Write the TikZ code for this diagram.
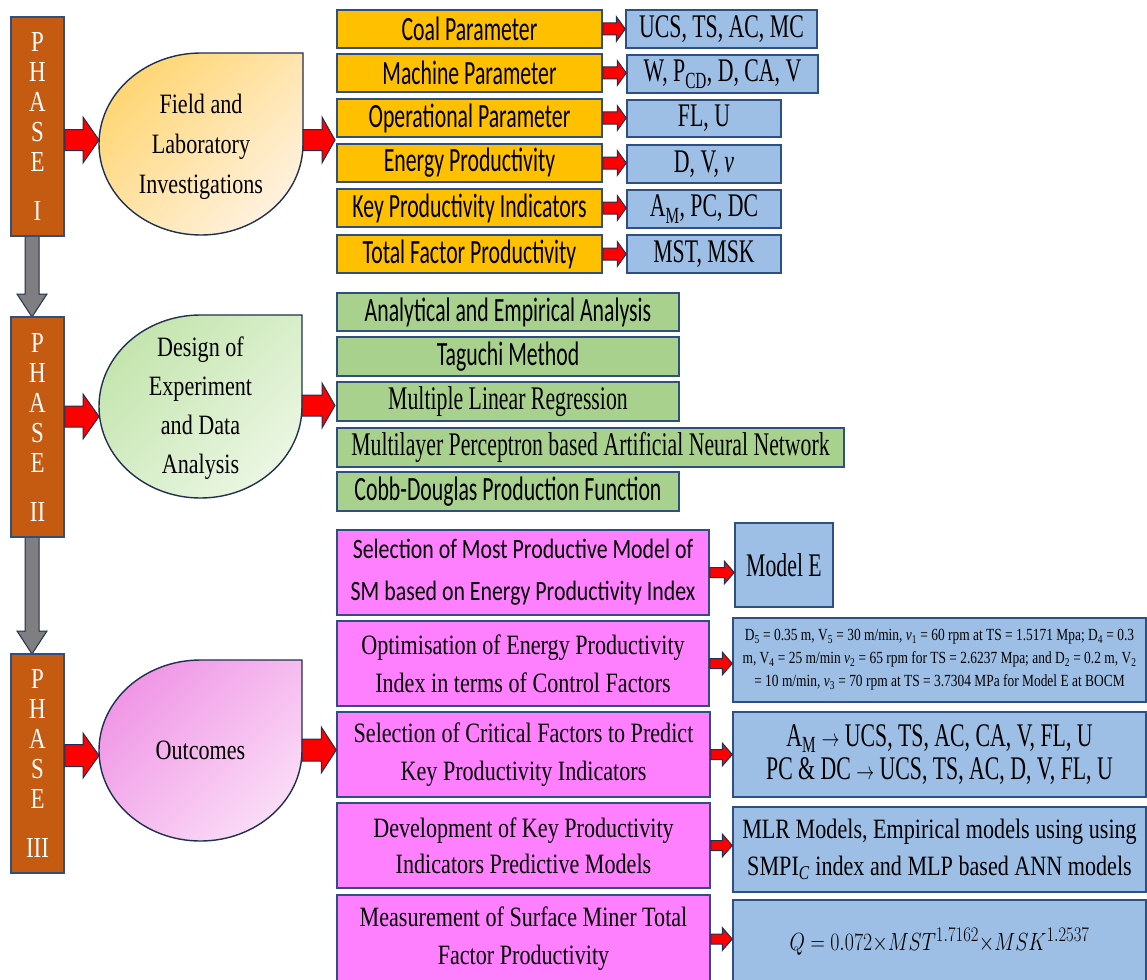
\documentclass[tikz,border=0pt]{standalone}
\usepackage{fontspec}
\usepackage{graphicx}
\setmainfont{Liberation Serif}
\newfontfamily\calA[FakeStretch=0.64]{Carlito}
\newfontfamily\calB[FakeStretch=0.78]{Carlito}
\newfontfamily\tmA[FakeStretch=0.66]{Liberation Serif}
\newfontfamily\tmB[FakeStretch=0.79]{Liberation Serif}
\usetikzlibrary{calc}
\definecolor{bord}{HTML}{2F4F80}
\definecolor{navy}{HTML}{1F3050}
\definecolor{orng}{HTML}{FFC000}
\definecolor{lblue}{HTML}{9DBFE5}
\definecolor{lgreen}{HTML}{A9D18E}
\definecolor{pink}{HTML}{FF80FF}
\definecolor{brown}{HTML}{C55A11}
\definecolor{gray5}{HTML}{7F7F7F}
\definecolor{yelD}{HTML}{FFD674}
\definecolor{yelL}{HTML}{FFF1DE}
\definecolor{grnD}{HTML}{C4E5AE}
\definecolor{grnL}{HTML}{EAF6E2}
\definecolor{pnkD}{HTML}{F096E6}
\definecolor{pnkL}{HTML}{FADCF6}
\newcommand\myarr{\ \scalebox{0.72}[1]{$\rightarrow$}\ }
\tikzset{
  box/.style={draw=bord, line width=1.5pt, inner sep=0pt, align=center, text=black},
  orangebox/.style={box, fill=orng, font=\calA\fontsize{34}{34}\selectfont},
  bluebox/.style={box, fill=lblue, font=\tmA\fontsize{33}{33}\selectfont},
  greencal/.style={box, fill=lgreen, font=\calA\fontsize{34}{34}\selectfont},
  greentm/.style={box, fill=lgreen, font=\tmA\fontsize{33}{33}\selectfont},
  pinkcal/.style={box, fill=pink, font=\calB\fontsize{28}{42}\selectfont},
  pinktm/.style={box, fill=pink, font=\tmB\fontsize{28}{38}\selectfont},
  phasebox/.style={draw=bord, line width=1.5pt, fill=brown, inner sep=0pt, align=center, text=white, font=\tmB\fontsize{29}{30}\selectfont},
  teartext/.style={inner sep=0pt, align=center, font=\tmB\fontsize{28}{40}\selectfont},
  tearline/.style={draw=navy, line width=1.4pt},
  redarrow/.style={fill=red, draw=navy, line width=1pt},
  grayarrow/.style={fill=gray5, draw=navy, line width=1pt}
}
% box by corners (y measured downward)
\newcommand\bx[7]{\node[#2, minimum width={#5-#3}, minimum height={#6-#4}] (#1) at ({(#3+#5)/2},{-(#4+#6)/2}) {#7};}
% horizontal block arrow: style, start, end, shaft half, head half, head length
\newcommand\harrow[6]{\path[#1] let \p1=#2, \p2=#3 in (\x1,\y1+#4pt) -- (\x2-#6pt,\y1+#4pt) -- (\x2-#6pt,\y1+#5pt) -- (\x2,\y1) -- (\x2-#6pt,\y1-#5pt) -- (\x2-#6pt,\y1-#4pt) -- (\x1,\y1-#4pt) -- cycle;}
% vertical block arrow (downwards)
\newcommand\varrow[6]{\path[#1] let \p1=#2, \p2=#3 in (\x1-#4pt,\y1) -- (\x1-#4pt,\y2+#6pt) -- (\x1-#5pt,\y2+#6pt) -- (\x1,\y2) -- (\x1+#5pt,\y2+#6pt) -- (\x1+#4pt,\y2+#6pt) -- (\x1+#4pt,\y1) -- cycle;}
% teardrop: cx, cy(down), rx, ry, dark, light
\newcommand\teardrop[6]{\path[tearline, top color=#5, bottom color=#6, shading angle=45] (#1,-#2+#4) -- (#1+#3,-#2+#4) -- (#1+#3,-#2) arc[start angle=0,end angle=-90,x radius=#3,y radius=#4] arc[start angle=-90,end angle=-180,x radius=#3,y radius=#4] arc[start angle=180,end angle=90,x radius=#3,y radius=#4] -- cycle;}
\begin{document}
\begin{tikzpicture}[x=1pt,y=1pt]
\useasboundingbox (0,0) rectangle (1147,-979);

% ---------- phase boxes and gray arrows ----------
\coordinate (ph1s) at (32,-236);
\coordinate (ph2n) at (32,-317);
\coordinate (ph2s) at (32,-537);
\coordinate (ph3n) at (32,-654);
\varrow{grayarrow}{(ph1s)}{(ph2n)}{7}{15}{23}
\varrow{grayarrow}{(ph2s)}{(ph3n)}{7}{15}{23}
\bx{ph1}{phasebox}{11}{17}{64}{236}{P\\H\\A\\S\\E\\[19pt]I}
\bx{ph2}{phasebox}{11}{317}{64}{537}{P\\H\\A\\S\\E\\[19pt]II}
\bx{ph3}{phasebox}{11}{654}{64}{873}{P\\H\\A\\S\\E\\[19pt]III}

% ---------- teardrops ----------
\teardrop{201}{144}{102}{91}{yelD}{yelL}
\node[teartext] (t1) at (201,-147) {Field and\\Laboratory\\Investigations};
\coordinate (t1w) at (99,-140);
\coordinate (t1e) at (303,-140);
\teardrop{200.5}{406.5}{101.5}{91.5}{grnD}{grnL}
\node[teartext, font=\tmB\fontsize{28}{39}\selectfont] (t2) at (200.5,-408) {Design of\\Experiment\\and Data\\Analysis};
\coordinate (t2w) at (99,-416.5);
\coordinate (t2e) at (302,-405.5);
\teardrop{200.5}{750.5}{101.5}{90.5}{pnkD}{pnkL}
\node[teartext] (t3) at (200.5,-750) {Outcomes};
\coordinate (t3w) at (99,-755.5);
\coordinate (t3e) at (302,-750);

% ---------- phase I boxes ----------
\bx{o1}{orangebox}{337}{10}{602}{48}{Coal Parameter}
\bx{o2}{orangebox}{337}{54}{602}{92}{Machine Parameter}
\bx{o3}{orangebox}{337}{99}{602}{137}{Operational Parameter}
\bx{o4}{orangebox}{337}{144}{602}{182}{Energy Productivity}
\bx{o5}{orangebox}{337}{189}{602}{227}{Key Productivity Indicators}
\bx{o6}{orangebox}{337}{235}{602}{273}{Total Factor Productivity}
\bx{b1}{bluebox}{626}{10}{817}{48}{UCS, TS, AC, MC}
\bx{b2}{bluebox}{627}{55}{818}{93}{W, P\textsubscript{CD}, D, CA, V}
\bx{b3}{bluebox}{627}{100}{781}{137}{FL, U}
\bx{b4}{bluebox}{627}{145}{781}{183}{D, V, \textit{ν}}
\bx{b5}{bluebox}{627}{190}{781}{228}{A\textsubscript{M}, PC, DC}
\bx{b6}{bluebox}{627}{235}{781}{273}{MST, MSK}
\foreach \i in {1,...,6}{\harrow{redarrow}{(o\i.east)}{(b\i.west)}{6}{12.5}{9}}

% ---------- phase II boxes ----------
\bx{g1}{greencal}{337}{293}{679}{331}{Analytical and Empirical Analysis}
\bx{g2}{greencal}{337}{337}{679}{376}{Taguchi Method}
\bx{g3}{greentm}{337}{382}{679}{421}{Multiple Linear Regression}
\bx{g4}{greentm}{337}{428}{844}{467}{Multilayer Perceptron based Artificial Neural Network}
\bx{g5}{greencal}{337}{472}{679}{511}{Cobb-Douglas Production Function}

% ---------- phase III boxes ----------
\bx{p1}{pinkcal}{337}{530}{709}{615}{Selection of Most Productive Model of\\SM based on Energy Productivity Index}
\bx{p2}{pinktm}{337}{621}{709}{706}{Optimisation of Energy Productivity\\Index in terms of Control Factors}
\bx{p3}{pinktm}{337}{712}{710}{797}{Selection of Critical Factors to Predict\\Key Productivity Indicators}
\bx{p4}{pinktm, font=\tmB\fontsize{28}{36}\selectfont}{337}{803}{710}{888}{Development of Key Productivity\\Indicators Predictive Models}
\bx{p5}{pinktm}{337}{895}{710}{983}{Measurement of Surface Miner Total\\Factor Productivity}
\bx{q1}{bluebox}{735}{523}{833}{607}{Model E}
\bx{q2}{bluebox, font=\tmB\fontsize{17}{23}\selectfont}{733}{618}{1146}{702}{D\textsubscript{5} = 0.35 m, V\textsubscript{5} = 30 m/min, \textit{ν}\textsubscript{1} = 60 rpm at TS = 1.5171 Mpa; D\textsubscript{4} = 0.3\\m, V\textsubscript{4} = 25 m/min \textit{ν}\textsubscript{2} = 65 rpm for TS = 2.6237 Mpa; and D\textsubscript{2} = 0.2 m, V\textsubscript{2}\\= 10 m/min, \textit{ν}\textsubscript{3} = 70 rpm at TS = 3.7304 MPa for Model E at BOCM}
\bx{q3}{bluebox}{733}{712}{1146}{797}{A\textsubscript{M}\myarr UCS, TS, AC, CA, V, FL, U\\PC \& DC\myarr UCS, TS, AC, D, V, FL, U}
\bx{q4}{bluebox, font=\tmB\fontsize{28}{37}\selectfont}{733}{807}{1146}{892}{MLR Models, Empirical models using using\\SMPI\textsubscript{\textit{C}} index and MLP based ANN models}
\bx{q5}{bluebox}{733}{900}{1146}{983}{\fontsize{31}{31}\selectfont\scalebox{0.8}[1]{$Q = 0.072{\times}MST^{1.7162}{\times}MSK^{1.2537}$}}
\foreach \i in {1,...,5}{\harrow{redarrow}{(p\i.east)}{(q\i.west)}{5}{11.5}{10}}

% ---------- big red arrows ----------
\harrow{redarrow}{(ph1.east |- t1w)}{(t1w)}{10.5}{23}{16}
\harrow{redarrow}{(t1e)}{(335,-140)}{10.5}{23}{13}
\harrow{redarrow}{(ph2.east |- t2w)}{(t2w)}{10.5}{22.5}{16}
\harrow{redarrow}{(t2e)}{(335,-405.5)}{10.5}{22.5}{13}
\harrow{redarrow}{(ph3.east |- t3w)}{(t3w)}{11}{22.5}{16}
\harrow{redarrow}{(t3e)}{(p3.west |- t3e)}{11}{23}{15}
\end{tikzpicture}
\end{document}
